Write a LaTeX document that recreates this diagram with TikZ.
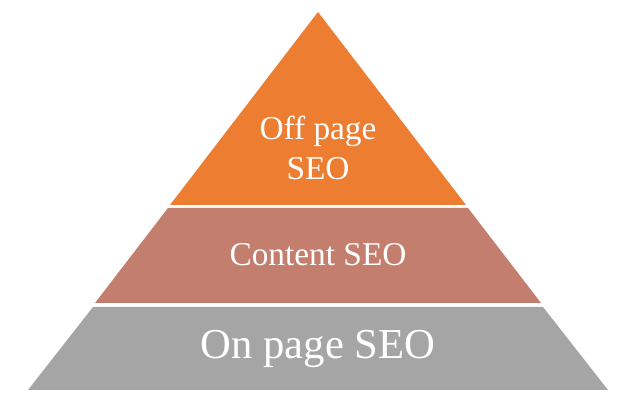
\documentclass[tikz,border=0pt]{standalone}
\usepackage{fontspec}
\setmainfont{Liberation Serif}
\definecolor{offpage}{HTML}{ED7D31}
\definecolor{content}{HTML}{C47E6E}
\definecolor{onpage}{HTML}{A5A5A5}
\tikzset{layertext/.style={text=white, align=center}}
\begin{document}
\begin{tikzpicture}[x=0.75pt,y=-0.75pt]
\useasboundingbox[fill=white] (0,0) rectangle (629,402);
% pyramid layers
\fill[offpage] (318,12) -- (466,205) -- (170,205) -- cycle;
\fill[content] (168,208) -- (468,208) -- (541,303) -- (95,303) -- cycle;
\fill[onpage] (93,307) -- (543,307) -- (608,390) -- (28,390) -- cycle;
% labels
\node[layertext, font=\fontsize{25}{30}\selectfont] (off) at (318,148) {Off page\\SEO};
\node[layertext, font=\fontsize{25}{30}\selectfont] (cont) at (318,255) {Content SEO};
\node[layertext, font=\fontsize{32}{38}\selectfont] (on) at (318,349) {On page SEO};
\end{tikzpicture}
\end{document}
